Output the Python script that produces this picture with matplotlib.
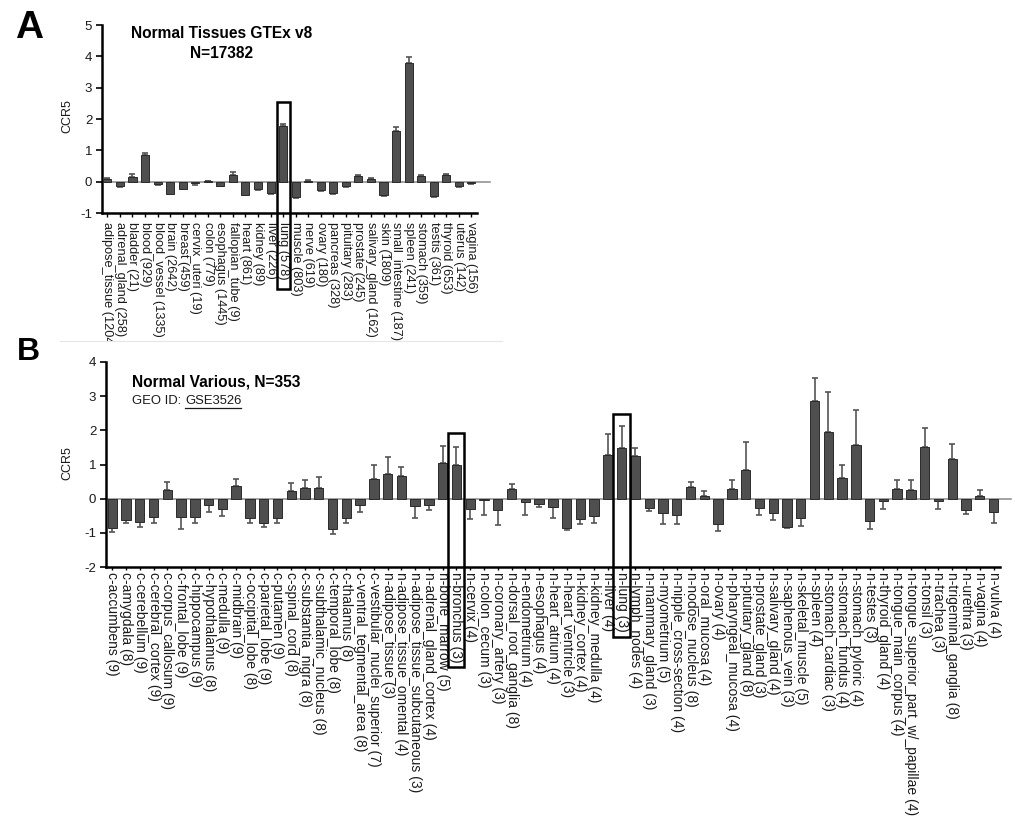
import matplotlib
matplotlib.use("Agg")
import matplotlib.pyplot as plt
from matplotlib.patches import Rectangle
from matplotlib.transforms import Bbox, TransformedBbox
from matplotlib.lines import Line2D
import numpy as np

plt.rcParams['font.family'] = ['Liberation Sans', 'DejaVu Sans']
plt.rcParams['axes.unicode_minus'] = False

# ---------------- Panel A data (GTEx v8) ----------------
gtex_labels = [
    "adipose_tissue (1204)", "adrenal_gland (258)", "bladder (21)", "blood (929)",
    "blood_vessel (1335)", "brain (2642)", "breast (459)", "cervix_uteri (19)",
    "colon (779)", "esophagus (1445)", "fallopian_tube (9)", "heart (861)",
    "kidney (89)", "liver (226)", "lung (578)", "muscle (803)", "nerve (619)",
    "ovary (180)", "pancreas (328)", "pituitary (283)", "prostate (245)",
    "salivary_gland (162)", "skin (1809)", "small_intestine (187)", "spleen (241)",
    "stomach (359)", "testis (361)", "thyroid (653)", "uterus (142)", "vagina (156)",
]
gtex_values = [0.10, -0.14, 0.15, 0.85, -0.08, -0.38, -0.22, -0.05, 0.02, -0.13,
               0.20, -0.42, -0.22, -0.35, 1.77, -0.50, 0.03, -0.28, -0.37, -0.15,
               0.19, 0.10, -0.43, 1.63, 3.80, 0.17, -0.47, 0.20, -0.15, -0.05]
gtex_errors = [0.02, 0.02, 0.10, 0.05, 0.02, 0.02, 0.03, 0.05, 0.01, 0.02,
               0.10, 0.02, 0.06, 0.03, 0.06, 0.02, 0.01, 0.03, 0.02, 0.02,
               0.03, 0.02, 0.02, 0.11, 0.17, 0.03, 0.02, 0.03, 0.03, 0.02]

# ---------------- Panel B data (GSE3526) ----------------
various_labels = [
    "c-accumbens (9)", "c-amygdala (8)", "c-cerebellum (9)", "c-cerebral_cortex (9)",
    "c-corpus_callosum (9)", "c-frontal_lobe (9)", "c-hippocampus (9)", "c-hypothalamus (8)",
    "c-medulla (9)", "c-midbrain (9)", "c-occipital_lobe (8)", "c-parietal_lobe (9)",
    "c-putamen (9)", "c-spinal_cord (8)", "c-substantia_nigra (8)", "c-subthalamic_nucleus (8)",
    "c-temporal_lobe (8)", "c-thalamus (8)", "c-ventral_tegmental_area (8)",
    "c-vestibular_nuclei_superior (7)", "n-adipose_tissue (3)", "n-adipose_tissue_omental (4)",
    "n-adipose_tissue_subcutaneous (3)", "n-adrenal_gland_cortex (4)", "n-bone_marrow (5)",
    "n-bronchus (3)", "n-cervix (4)", "n-colon_cecum (3)", "n-coronary_artery (3)",
    "n-dorsal_root_ganglia (8)", "n-endometrium (4)", "n-esophagus (4)", "n-heart_atrium (4)",
    "n-heart_ventricle (3)", "n-kidney_cortex (4)", "n-kidney_medulla (4)", "n-liver (4)",
    "n-lung (3)", "n-lymph_nodes (4)", "n-mammary_gland (3)", "n-myometrium (5)",
    "n-nipple_cross-section (4)", "n-nodose_nucleus (8)", "n-oral_mucosa (4)", "n-ovary (4)",
    "n-pharyngeal_mucosa (4)", "n-pituitary_gland (8)", "n-prostate_gland (3)",
    "n-salivary_gland (4)", "n-saphenous_vein (3)", "n-skeletal_muscle (5)", "n-spleen (4)",
    "n-stomach_cardiac (3)", "n-stomach_fundus (4)", "n-stomach_pyloric (4)", "n-testes (3)",
    "n-thyroid_gland (4)", "n-tongue_main_corpus (4)", "n-tongue_superior_part_w/_papillae (4)",
    "n-tonsil (3)", "n-trachea (3)", "n-trigeminal_ganglia (8)", "n-urethra (3)",
    "n-vagina (4)", "n-vulva (4)",
]
various_values = [-0.86, -0.62, -0.67, -0.55, 0.24, -0.55, -0.55, -0.20, -0.30, 0.36,
                  -0.57, -0.70, -0.58, 0.21, 0.30, 0.31, -0.88, -0.56, -0.20, 0.59,
                  0.73, 0.67, -0.22, -0.20, 1.05, 0.98, -0.30, -0.03, -0.33, 0.27,
                  -0.10, -0.16, -0.25, -0.85, -0.59, -0.51, 1.28, 1.49, 1.25, -0.27,
                  -0.43, -0.49, 0.33, 0.09, -0.75, 0.28, 0.83, -0.26, -0.42, -0.84,
                  -0.58, 2.85, 1.94, 0.60, 1.56, -0.65, -0.06, 0.27, 0.26, 1.51,
                  -0.06, 1.17, -0.34, 0.07, -0.39]
various_errors = [0.12, 0.10, 0.15, 0.15, 0.26, 0.34, 0.15, 0.18, 0.22, 0.22,
                  0.15, 0.12, 0.14, 0.25, 0.25, 0.31, 0.15, 0.16, 0.20, 0.41,
                  0.50, 0.25, 0.35, 0.13, 0.50, 0.52, 0.30, 0.44, 0.44, 0.16,
                  0.39, 0.08, 0.32, 0.08, 0.16, 0.20, 0.61, 0.64, 0.23, 0.08,
                  0.30, 0.24, 0.17, 0.13, 0.21, 0.26, 0.82, 0.23, 0.19, 0.02,
                  0.22, 0.69, 1.17, 0.40, 1.04, 0.25, 0.25, 0.29, 0.30, 0.56,
                  0.24, 0.42, 0.11, 0.17, 0.32]

W, H = 1015, 816
fig = plt.figure(figsize=(W / 100, H / 100), dpi=100)
fig.patch.set_facecolor("white")


def fx(px):
    return px / W


def fy(py):
    return 1 - py / H


BAR_C = "#4f4f4f"
EDGE_C = "#2b2b2b"
ERR_C = "#555555"
TXT_C = "#1a1a1a"


def draw_panel(ax, labels, values, errors, width, ylim, label_fs, tick_len, tick_pad, zero_extra):
    x = np.arange(len(values))
    vals = np.array(values)
    errs = np.array(errors)
    lower = np.where(vals < 0, errs, 0)
    upper = np.where(vals >= 0, errs, 0)
    ax.errorbar(x, vals, yerr=[lower, upper], fmt="none", ecolor=ERR_C,
                elinewidth=1.2, capsize=2, capthick=1.2, zorder=2)
    ax.bar(x, vals, width=width, color=BAR_C, edgecolor=EDGE_C, linewidth=0.7, zorder=3)
    ax.set_ylim(*ylim)
    ax.set_yticks(range(ylim[0], ylim[1] + 1))
    ax.set_xticks(x)
    ax.set_xticklabels(labels, rotation=270, ha="center", va="top",
                       fontsize=label_fs, color=TXT_C)
    for s in ("top", "right"):
        ax.spines[s].set_visible(False)
    for s in ("left", "bottom"):
        ax.spines[s].set_linewidth(1.8)
        ax.spines[s].set_color("black")
    ax.tick_params(axis="y", length=4, width=1.2, pad=3, labelsize=9.5, labelcolor=TXT_C)
    ax.tick_params(axis="x", length=tick_len, width=1, pad=tick_pad)
    x0, x1 = ax.get_xlim()
    ax.plot([x0, x1 + zero_extra], [0, 0], color="#8a8a8a", lw=1.1, zorder=1, clip_on=False)
    ax.set_xlim(x0, x1)
    ax.set_facecolor("none")
    return x


# ---------------- Panel A ----------------
axA = fig.add_axes([fx(102), fy(213), fx(477) - fx(102), fy(25) - fy(213)])
axA.set_xlim(-0.43, 29.45)
xA = draw_panel(axA, gtex_labels, gtex_values, gtex_errors, 0.64, (-1, 5), 9.2, 3, 3.5, 1.0)
clipA = TransformedBbox(Bbox.from_extents(0, fy(341), 1, 1), fig.transFigure)
for t in axA.get_xticklabels():
    t.set_clip_box(clipA)
    t.set_clip_on(True)

iA = gtex_labels.index("lung (578)")
axA.add_patch(Rectangle((iA - 0.52, -3.41), 1.04, 5.96, fill=False, lw=1.8,
                        edgecolor="black", clip_on=False, zorder=5))

fig.text(fx(222), fy(33), "Normal Tissues GTEx v8", ha="center", va="center",
         fontsize=11.2, fontweight="bold", color="black")
fig.text(fx(222), fy(53), "N=17382", ha="center", va="center",
         fontsize=11.2, fontweight="bold", color="black")
fig.text(fx(67), fy(116), "CCR5", rotation=90, ha="center", va="center",
         fontsize=9, color=TXT_C)
fig.text(fx(29), fy(27.5), "A", ha="center", va="center", fontsize=28,
         fontweight="bold", color="black")

# faint separator at the bottom of panel A
fig.add_artist(Line2D([fx(60), fx(502)], [fy(341), fy(341)], color="#e6e6e6", lw=0.8))

# ---------------- Panel B ----------------
axB = fig.add_axes([fx(106), fy(567), fx(1000) - fx(106), fy(362) - fy(567)])
axB.set_xlim(-0.45, 64.47)
xB = draw_panel(axB, various_labels, various_values, various_errors, 0.68, (-2, 4), 10.0, 2, 1.5, 0.8)

iB1 = various_labels.index("n-bronchus (3)")
axB.add_patch(Rectangle((iB1 - 0.58, -4.93), 1.16, 6.85, fill=False, lw=1.8,
                        edgecolor="black", clip_on=False, zorder=5))
iB2 = various_labels.index("n-lung (3)")
axB.add_patch(Rectangle((iB2 - 0.6, -4.05), 1.2, 6.53, fill=False, lw=1.8,
                        edgecolor="black", clip_on=False, zorder=5))

fig.text(fx(132), fy(382), "Normal Various, N=353", ha="left", va="center",
         fontsize=11.2, fontweight="bold", color="black")
t1 = fig.text(fx(132), fy(401), "GEO ID: ", ha="left", va="center",
              fontsize=9.4, color=TXT_C)
renderer = fig.canvas.get_renderer()
bb = t1.get_window_extent(renderer=renderer)
t2 = fig.text(bb.x1 / W, fy(401), "GSE3526", ha="left", va="center",
              fontsize=9.4, color=TXT_C)
bb2 = t2.get_window_extent(renderer=renderer)
fig.add_artist(Line2D([bb2.x0 / W, bb2.x1 / W], [(bb2.y0 - 0.5) / H, (bb2.y0 - 0.5) / H],
                      color=TXT_C, lw=0.9))
fig.text(fx(67), fy(463), "CCR5", rotation=90, ha="center", va="center",
         fontsize=9, color=TXT_C)
fig.text(fx(28.5), fy(352.5), "B", ha="center", va="center", fontsize=23,
         fontweight="bold", color="black")

fig.savefig("out.png", dpi=100, facecolor="white")
